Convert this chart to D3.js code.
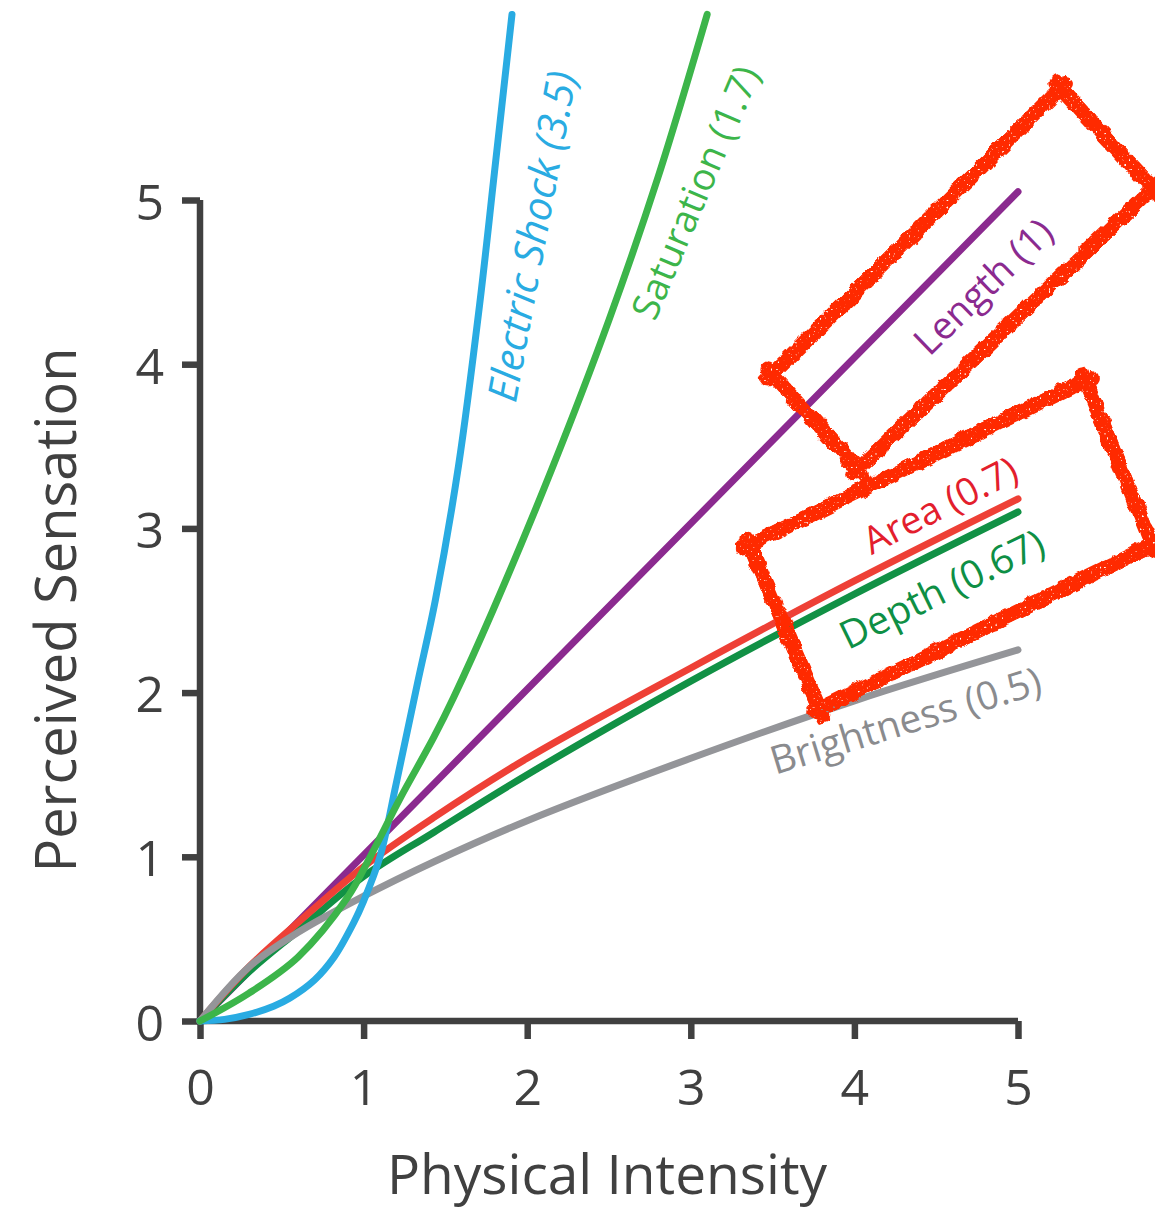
<!DOCTYPE html>
<html><head><meta charset="utf-8">
<script src="https://cdn.jsdelivr.net/npm/d3@7"></script>
<style>body{margin:0;background:#fff} svg{display:block}</style>
</head><body>
<script>
// ---- data ----
const xTicks = [0, 1, 2, 3, 4, 5];
const yTicks = [0, 1, 2, 3, 4, 5];

const lengthX = [0, 5];
const lengthY = [0, 5.05];

const depthX = [0, 0.3, 0.6, 1.0, 1.43, 2.0, 3.0, 4.0, 5.0];
const depthY = [0, 0.30, 0.55, 0.88, 1.15, 1.50, 2.07, 2.60, 3.10];

const areaX = [0, 0.3, 0.6, 1.0, 1.43, 2.0, 3.0, 4.0, 5.0];
const areaY = [0, 0.33, 0.60, 0.94, 1.24, 1.60, 2.15, 2.68, 3.18];

const brightX = [0, 0.3, 0.6, 1.0, 1.43, 2.0, 3.0, 4.0, 5.0];
const brightY = [0, 0.33, 0.54, 0.76, 0.97, 1.22, 1.60, 1.95, 2.26];

const shockX = [0, 0.15, 0.3, 0.45, 0.55, 0.7, 0.82, 0.94, 1.0, 1.1, 1.2, 1.33, 1.44, 1.58, 1.71, 1.8, 1.907];
const shockY = [0, 0.01, 0.04, 0.09, 0.14, 0.25, 0.39, 0.60, 0.73, 1.0, 1.45, 2.06, 2.57, 3.38, 4.37, 5.17, 6.13];

const satX = [0, 0.3, 0.6, 0.9, 1.04, 1.22, 1.43, 1.55, 1.79, 2.15, 2.5, 2.8, 3.1];
const satY = [0, 0.17, 0.39, 0.75, 1.0, 1.35, 1.73, 1.97, 2.50, 3.36, 4.27, 5.14, 6.13];

const seriesNames = ["Length", "Depth", "Area", "Brightness", "Electric Shock", "Saturation"];
const seriesColors = ["#8b2a8f", "#119145", "#ee4036", "#949599", "#29abe2", "#3cb54a"];
const seriesCurves = ["linear", "smooth", "smooth", "smooth", "smooth", "smooth"];

const labelTexts = ["Length (1)", "Depth (0.67)", "Area (0.7)", "Brightness (0.5)", "Electric Shock (3.5)", "Saturation (1.7)"];
const labelColors = ["#8b2a8f", "#0e8f45", "#e31e2d", "#8a8b8e", "#29abe2", "#3cb54a"];
const labelX = [4.78, 4.53, 4.52, 4.31, 2.02, 3.02];
const labelY = [4.48, 2.64, 3.15, 1.84, 4.78, 5.05];
const labelAngle = [-44, -26, -27, -17, -79.5, -67];
const labelSize = [38, 39, 38, 39, 41, 38];
const labelItalic = [false, false, false, false, true, false];

// annotation boxes (corners in data units)
const boxLength = [[3.50, 3.94], [5.26, 5.68], [5.82, 5.07], [4.02, 3.36]];
const boxArea = [[3.36, 2.90], [5.41, 3.90], [5.82, 2.90], [3.79, 1.90]];

const xTitle = "Physical Intensity";
const yTitle = "Perceived Sensation";

// ---- drawing ----
const W = 1155, H = 1212;
const svg = d3.select("body").append("svg").attr("width", W).attr("height", H);

const x = d3.scaleLinear().domain([0, 5]).range([200, 1018]);
const y = d3.scaleLinear().domain([0, 5]).range([1021, 200]);

const FONT = "'Open Sans', 'Noto Sans', sans-serif";
const AX = "#404040";

const defs = svg.append("defs");
const f = defs.append("filter").attr("id", "rough")
  .attr("x", "-20%").attr("y", "-20%").attr("width", "140%").attr("height", "140%");
f.append("feTurbulence").attr("type", "fractalNoise").attr("baseFrequency", "0.08")
  .attr("numOctaves", 3).attr("seed", 4).attr("result", "n");
f.append("feDisplacementMap").attr("in", "SourceGraphic").attr("in2", "n").attr("scale", 7)
  .attr("xChannelSelector", "R").attr("yChannelSelector", "G").attr("result", "d");
f.append("feTurbulence").attr("type", "fractalNoise").attr("baseFrequency", "0.45")
  .attr("numOctaves", 1).attr("seed", 9).attr("result", "n2");
f.append("feColorMatrix").attr("in", "n2").attr("type", "matrix")
  .attr("values", "0 0 0 0 0  0 0 0 0 0  0 0 0 0 0  10 0 0 0 -2.3").attr("result", "holes");
f.append("feComposite").attr("in", "d").attr("in2", "holes").attr("operator", "in");

// axes
const gx = svg.append("g").attr("transform", `translate(0,${y(0)})`)
  .call(d3.axisBottom(x).tickValues(xTicks).tickSize(18).tickSizeOuter(0).tickPadding(30).tickFormat(d3.format("d")));
const gy = svg.append("g").attr("transform", `translate(${x(0)},0)`)
  .call(d3.axisLeft(y).tickValues(yTicks).tickSize(18).tickSizeOuter(0).tickPadding(18).tickFormat(d3.format("d")));
[gx, gy].forEach(g => {
  g.select(".domain").attr("stroke", AX).attr("stroke-width", 6.5);
  g.selectAll(".tick line").attr("stroke", AX).attr("stroke-width", 6.5);
  g.selectAll(".tick text").attr("fill", AX).attr("font-family", FONT).attr("font-size", 50);
});
gy.selectAll(".tick text").attr("dy", "0.38em");
gx.select(".domain").attr("d", `M${x(0)},0H${x(5)}`);
gy.select(".domain").attr("d", `M0,${y(0)}V${y(5)}`);

// curves
const allX = [lengthX, depthX, areaX, brightX, shockX, satX];
const allY = [lengthY, depthY, areaY, brightY, shockY, satY];
const curveG = svg.append("g");
seriesNames.forEach((name, i) => {
  const pts = allX[i].map((v, j) => [v, allY[i][j]]);
  const line = d3.line().x(d => x(d[0])).y(d => y(d[1]))
    .curve(seriesCurves[i] === "linear" ? d3.curveLinear : d3.curveCatmullRom.alpha(0.5));
  curveG.append("path").attr("d", line(pts)).attr("fill", "none")
    .attr("stroke", seriesColors[i]).attr("stroke-width", 7)
    .attr("stroke-linecap", "round").attr("stroke-linejoin", "round");
});

// labels
labelTexts.forEach((t, i) => {
  svg.append("text")
    .attr("transform", `translate(${x(labelX[i])},${y(labelY[i])}) rotate(${labelAngle[i]})`)
    .attr("text-anchor", "middle").attr("dominant-baseline", "central")
    .attr("font-family", FONT).attr("font-size", labelSize[i])
    .attr("font-style", labelItalic[i] ? "italic" : "normal")
    .attr("fill", labelColors[i]).text(t);
});

// axis titles
svg.append("text").attr("x", 607).attr("y", 1194).attr("text-anchor", "middle")
  .attr("font-family", FONT).attr("font-size", 55).attr("fill", AX).text(xTitle);
svg.append("text").attr("transform", "translate(76,610) rotate(-90)").attr("text-anchor", "middle")
  .attr("font-family", FONT).attr("font-size", 56).attr("fill", AX).text(yTitle);

// sketchy annotation boxes
function drawBox(corners) {
  const p = corners.map(c => [x(c[0]), y(c[1])]);
  const g = svg.append("g").attr("filter", "url(#rough)");
  for (let k = 0; k < 4; k++) {
    const a = p[k], b = p[(k + 1) % 4];
    const dx = b[0] - a[0], dy = b[1] - a[1], L = Math.hypot(dx, dy);
    const ux = dx / L, uy = dy / L, ext = 7;
    g.append("line")
      .attr("x1", a[0] - ux * ext).attr("y1", a[1] - uy * ext)
      .attr("x2", b[0] + ux * ext).attr("y2", b[1] + uy * ext)
      .attr("stroke", "#ff2a00").attr("stroke-width", 15).attr("stroke-linecap", "round");
    g.append("line")
      .attr("x1", a[0] - ux * ext * 1.5 + uy * 4).attr("y1", a[1] - uy * ext * 1.5 - ux * 4)
      .attr("x2", b[0] + ux * ext * 0.5 + uy * 4).attr("y2", b[1] + uy * ext * 0.5 - ux * 4)
      .attr("stroke", "#ff2a00").attr("stroke-width", 7).attr("stroke-linecap", "round");
  }
}
drawBox(boxLength);
drawBox(boxArea);
</script>
</body></html>
